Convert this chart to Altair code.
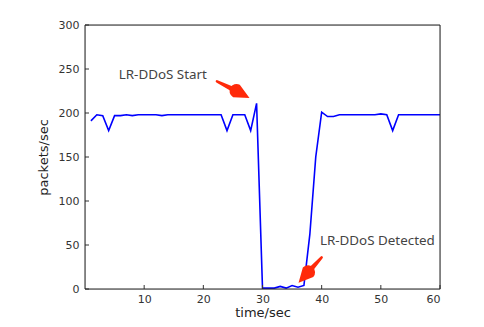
import altair as alt
import pandas as pd

# ---- data ----
time_sec = list(range(1, 61))
packets = [191, 198, 197, 180, 197, 197, 198, 197, 198, 198,
           198, 198, 197, 198, 198, 198, 198, 198, 198, 198,
           198, 198, 198, 180, 198, 198, 198, 180, 211, 1,
           1, 1, 3, 1, 4, 2, 4, 62, 150, 201,
           196, 196, 198, 198, 198, 198, 198, 198, 198, 199,
           198, 180, 198, 198, 198, 198, 198, 198, 198, 198]

x_ticks = [10, 20, 30, 40, 50, 60]
y_ticks = [0, 50, 100, 150, 200, 250, 300]

ann_text = ["LR-DDoS Start", "LR-DDoS Detected"]
ann_x = [5.7, 39.7]
ann_y = [243, 55]

# arrows: tail -> head base -> tip
arrow_tail_x = [22.3, 40.0]
arrow_tail_y = [236, 36]
arrow_base_x = [25.6, 37.7]
arrow_base_y = [225, 19]
arrow_tip_x = [27.8, 36.1]
arrow_tip_y = [217, 7]

W, H = 355, 264

df = pd.DataFrame({"t": time_sec, "p": packets})
ann = pd.DataFrame({"text": ann_text, "x": ann_x, "y": ann_y})

rows = []
for i in range(len(arrow_tail_x)):
    rows.append({"id": f"s{i}", "o": 0, "x": arrow_tail_x[i], "y": arrow_tail_y[i], "w": 2.5})
    rows.append({"id": f"s{i}", "o": 1, "x": arrow_base_x[i], "y": arrow_base_y[i], "w": 5.5})
    rows.append({"id": f"h{i}", "o": 0, "x": arrow_base_x[i], "y": arrow_base_y[i], "w": 14.0})
    rows.append({"id": f"h{i}", "o": 1, "x": arrow_tip_x[i], "y": arrow_tip_y[i], "w": 0.1})
arr = pd.DataFrame(rows)

xs = alt.Scale(domain=[0, 60], nice=False, zero=False)
ys = alt.Scale(domain=[0, 300], nice=False)

font = "DejaVu Sans"

line = alt.Chart(df).mark_line(color="#0000ff", strokeWidth=1.6, clip=True).encode(
    x=alt.X("t:Q", scale=xs, title="time/sec",
            axis=alt.Axis(values=x_ticks, domain=False, ticks=False, grid=False,
                          labelFont=font, labelFontSize=11, labelColor="#333333",
                          labelPadding=4, titleFont=font, titleFontSize=13,
                          titleFontWeight="normal", titleColor="#222222", titlePadding=2)),
    y=alt.Y("p:Q", scale=ys, title="packets/sec",
            axis=alt.Axis(values=y_ticks, domain=False, ticks=False, grid=False,
                          labelFont=font, labelFontSize=11, labelColor="#333333",
                          labelPadding=6, titleFont=font, titleFontSize=13,
                          titleFontWeight="normal", titleColor="#222222", titlePadding=8)),
)

ytick_df = pd.DataFrame({"v": y_ticks})
xtick_df = pd.DataFrame({"v": x_ticks})
yt = alt.Chart(ytick_df).mark_rule(color="#333333", strokeWidth=1).encode(
    y=alt.Y("v:Q", scale=ys), x=alt.value(0), x2=alt.value(4))
xt = alt.Chart(xtick_df).mark_rule(color="#333333", strokeWidth=1).encode(
    x=alt.X("v:Q", scale=xs), y=alt.value(H), y2=alt.value(H - 4))

frame = alt.Chart(pd.DataFrame({"a": [0]})).mark_rect(
    fill=None, fillOpacity=0, stroke="#222222", strokeWidth=1).encode(
    x=alt.value(0), x2=alt.value(W), y=alt.value(0), y2=alt.value(H))

texts = alt.Chart(ann).mark_text(align="left", baseline="middle", font="Noto Sans",
                                 fontSize=13.4, color="#444444").encode(
    x=alt.X("x:Q", scale=xs), y=alt.Y("y:Q", scale=ys), text="text:N")

arrows = alt.Chart(arr).mark_trail(color="#ff2a0a").encode(
    x=alt.X("x:Q", scale=xs), y=alt.Y("y:Q", scale=ys),
    size=alt.Size("w:Q", scale=None, legend=None),
    detail="id:N", order="o:Q")

chart = alt.layer(line, yt, xt, frame, arrows, texts).properties(
    width=W, height=H,
    autosize=alt.AutoSizeParams(type="none"),
    padding={"left": 77, "top": 17, "right": 30, "bottom": 30},
).configure_view(stroke=None).configure(background="white")

chart.save("out.html", embed_options={"renderer": "svg", "actions": False})
